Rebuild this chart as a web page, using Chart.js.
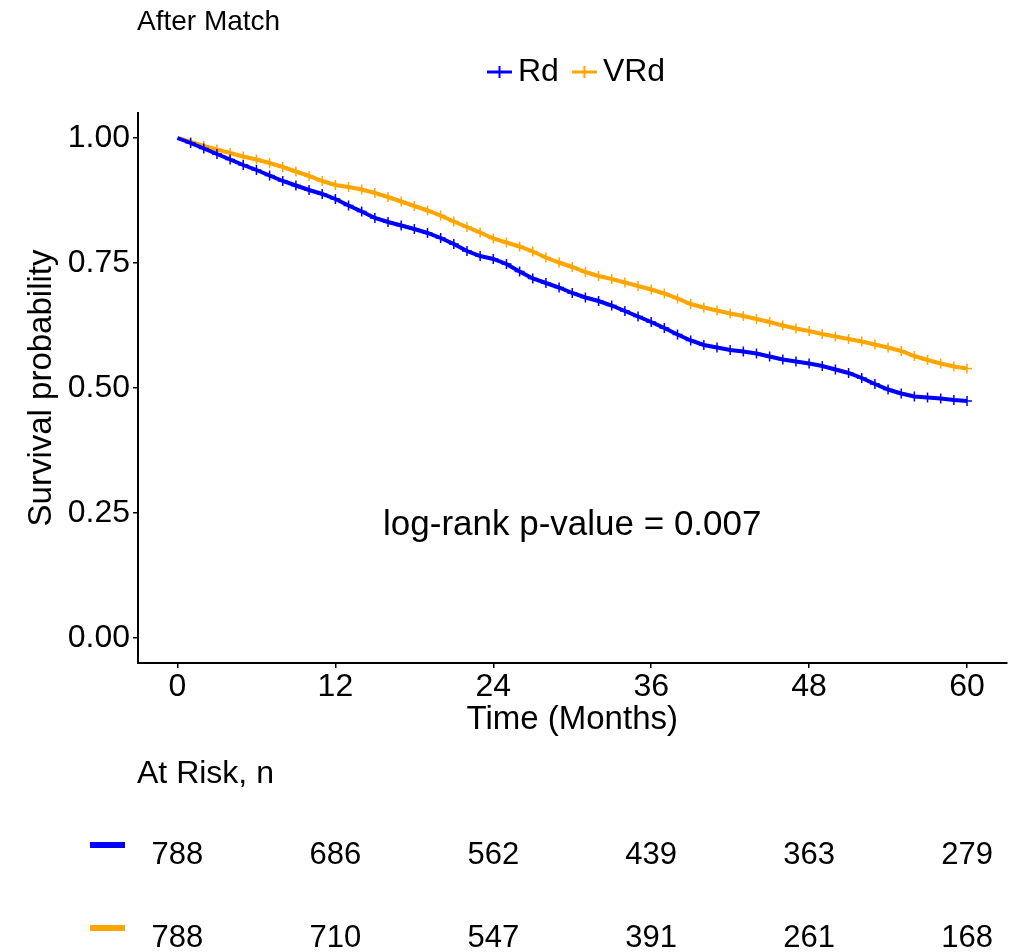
<!DOCTYPE html>
<html>
<head>
<meta charset="utf-8">
<title>After Match</title>
<script src="https://cdn.jsdelivr.net/npm/chart.js@4"></script>
<style>
  html, body { margin: 0; padding: 0; background: #fff; }
  canvas { display: block; }
</style>
</head>
<body>
<canvas id="kmChart" width="1013" height="952"></canvas>
<script>
// Follow-up time in months and survival estimates
const months = [
    0, 1, 2, 3, 4, 5, 6, 7, 8, 9, 10, 11, 12, 13, 14, 15, 16, 17, 18, 19, 20,
    21, 22, 23, 24, 25, 26, 27, 28, 29, 30, 31, 32, 33, 34, 35, 36, 37, 38, 39, 40,
    41, 42, 43, 44, 45, 46, 47, 48, 49, 50, 51, 52, 53, 54, 55, 56, 57, 58, 59, 60
];
const rdSurvival = [
    1.000, 0.990, 0.979, 0.968, 0.957, 0.946, 0.936, 0.925, 0.914, 0.905, 0.896,
    0.888, 0.878, 0.865, 0.853, 0.840, 0.832, 0.825, 0.818, 0.810, 0.800,
    0.788, 0.774, 0.764, 0.758, 0.748, 0.733, 0.719, 0.710, 0.701, 0.690,
    0.681, 0.674, 0.665, 0.654, 0.643, 0.632, 0.620, 0.607, 0.595, 0.586,
    0.581, 0.576, 0.573, 0.569, 0.563, 0.557, 0.553, 0.549, 0.544, 0.537,
    0.530, 0.520, 0.508, 0.497, 0.489, 0.483, 0.481, 0.479, 0.476, 0.474
];
const vrdSurvival = [
    1.000, 0.992, 0.984, 0.977, 0.970, 0.963, 0.957, 0.950, 0.942, 0.933, 0.924,
    0.914, 0.906, 0.902, 0.897, 0.890, 0.882, 0.873, 0.864, 0.855, 0.845,
    0.833, 0.822, 0.811, 0.799, 0.791, 0.783, 0.773, 0.761, 0.751, 0.742,
    0.732, 0.724, 0.718, 0.711, 0.704, 0.697, 0.689, 0.679, 0.668, 0.661,
    0.655, 0.649, 0.644, 0.638, 0.632, 0.625, 0.619, 0.614, 0.608, 0.603,
    0.598, 0.593, 0.587, 0.581, 0.574, 0.564, 0.556, 0.549, 0.543, 0.539
];

// Axis ticks
const xTicks = [0, 12, 24, 36, 48, 60];
const yTicks = [0, 0.25, 0.5, 0.75, 1];

// Numbers at risk
const riskTimes = [0, 12, 24, 36, 48, 60];
const rdAtRisk = [788, 686, 562, 439, 363, 279];
const vrdAtRisk = [788, 710, 547, 391, 261, 168];

const seriesNames = ['Rd', 'VRd'];
const pValueLabel = 'log-rank p-value = 0.007';

const FONT = '"Liberation Sans", Arial, Helvetica, sans-serif';

function toPoints(values) {
    return months.map((m, i) => ({ x: m, y: values[i] }));
}

function drawCross(ctx, cx, cy, r) {
    ctx.beginPath();
    ctx.moveTo(cx - r, cy);
    ctx.lineTo(cx + r, cy);
    ctx.moveTo(cx, cy - r);
    ctx.lineTo(cx, cy + r);
    ctx.stroke();
}

// Title, legend, axis titles, p-value and the at-risk table
const extras = {
    id: 'extras',
    afterDraw(chart) {
        const { ctx, chartArea } = chart;
        const x = chart.scales.x;
        const y = chart.scales.y;
        const sets = chart.data.datasets;
        ctx.save();
        ctx.fillStyle = '#000';
        ctx.textBaseline = 'middle';

        // plot title
        ctx.font = `28px ${FONT}`;
        ctx.textAlign = 'left';
        ctx.fillText('After Match', 137, 22);

        // legend
        ctx.font = `32px ${FONT}`;
        let lx = 487;
        const ly = 72;
        sets.forEach(ds => {
            ctx.strokeStyle = ds.borderColor;
            ctx.lineWidth = 3;
            ctx.beginPath();
            ctx.moveTo(lx, ly);
            ctx.lineTo(lx + 25, ly);
            ctx.stroke();
            ctx.lineWidth = 2;
            drawCross(ctx, lx + 12.5, ly, 6);
            ctx.fillText(ds.label, lx + 31, ly);
            lx += 31 + ctx.measureText(ds.label).width + 13;
        });

        // axis titles
        ctx.font = `33px ${FONT}`;
        ctx.textAlign = 'center';
        ctx.fillText('Time (Months)', (chartArea.left + chartArea.right) / 2, 720);
        ctx.save();
        ctx.translate(42, (chartArea.top + chartArea.bottom) / 2);
        ctx.rotate(-Math.PI / 2);
        ctx.fillText('Survival probability', 0, 0);
        ctx.restore();

        // log-rank p-value
        ctx.font = `35px ${FONT}`;
        ctx.fillText(pValueLabel, x.getPixelForValue(30), y.getPixelForValue(0.225));

        // at-risk table
        ctx.font = `32px ${FONT}`;
        ctx.textAlign = 'left';
        ctx.fillText('At Risk, n', 137, 774);
        const rows = [rdAtRisk, vrdAtRisk];
        const rowY = [855, 938];
        ctx.font = `31px ${FONT}`;
        ctx.textAlign = 'center';
        rows.forEach((row, r) => {
            ctx.strokeStyle = sets[r].borderColor;
            ctx.lineWidth = 6;
            ctx.beginPath();
            ctx.moveTo(90, rowY[r] - 10);
            ctx.lineTo(125, rowY[r] - 10);
            ctx.stroke();
            ctx.fillStyle = '#000';
            row.forEach((n, i) => {
                ctx.fillText(String(n), x.getPixelForValue(riskTimes[i]), rowY[r]);
            });
        });
        ctx.restore();
    }
};

const ctx = document.getElementById('kmChart').getContext('2d');
const kmChart = new Chart(ctx, {
    type: 'line',
    data: {
        datasets: [{
            label: seriesNames[0],
            data: toPoints(rdSurvival),
            borderColor: '#0000ff',
            backgroundColor: '#0000ff',
            borderWidth: 4,
            tension: 0,
            fill: false,
            pointStyle: 'cross',
            pointRadius: c => (c.dataIndex === 0 ? 0 : 5),
            pointBorderWidth: 1.5,
            pointBorderColor: '#0000ff'
        }, {
            label: seriesNames[1],
            data: toPoints(vrdSurvival),
            borderColor: '#ffa500',
            backgroundColor: '#ffa500',
            borderWidth: 4,
            tension: 0,
            fill: false,
            pointStyle: 'cross',
            pointRadius: c => (c.dataIndex === 0 ? 0 : 5),
            pointBorderWidth: 1.5,
            pointBorderColor: '#ffa500'
        }]
    },
    options: {
        responsive: false,
        animation: false,
        devicePixelRatio: 1,
        layout: {
            padding: { top: 113, right: 6, bottom: 229, left: 0 }
        },
        plugins: {
            legend: { display: false },
            title: { display: false },
            tooltip: { enabled: false }
        },
        scales: {
            x: {
                type: 'linear',
                min: -3,
                max: 63,
                afterBuildTicks: s => { s.ticks = xTicks.map(v => ({ value: v })); },
                afterFit: s => { s.height = 60; },
                border: { display: true, color: '#000', width: 2 },
                grid: { display: true, drawOnChartArea: false, drawTicks: true, tickLength: 5, color: '#000', lineWidth: 1.5 },
                ticks: {
                    color: '#000',
                    font: { family: FONT, size: 32 },
                    padding: 0,
                    maxRotation: 0,
                    callback: v => String(v)
                }
            },
            y: {
                type: 'linear',
                min: -0.05,
                max: 1.05,
                afterBuildTicks: s => { s.ticks = yTicks.map(v => ({ value: v })); },
                afterFit: s => { s.width = 138; },
                border: { display: true, color: '#000', width: 2 },
                grid: { display: true, drawOnChartArea: false, drawTicks: true, tickLength: 5, color: '#000', lineWidth: 1.5 },
                ticks: {
                    color: '#000',
                    font: { family: FONT, size: 32 },
                    padding: 3,
                    callback: v => v.toFixed(2)
                }
            }
        }
    },
    plugins: [extras]
});
</script>
</body>
</html>
